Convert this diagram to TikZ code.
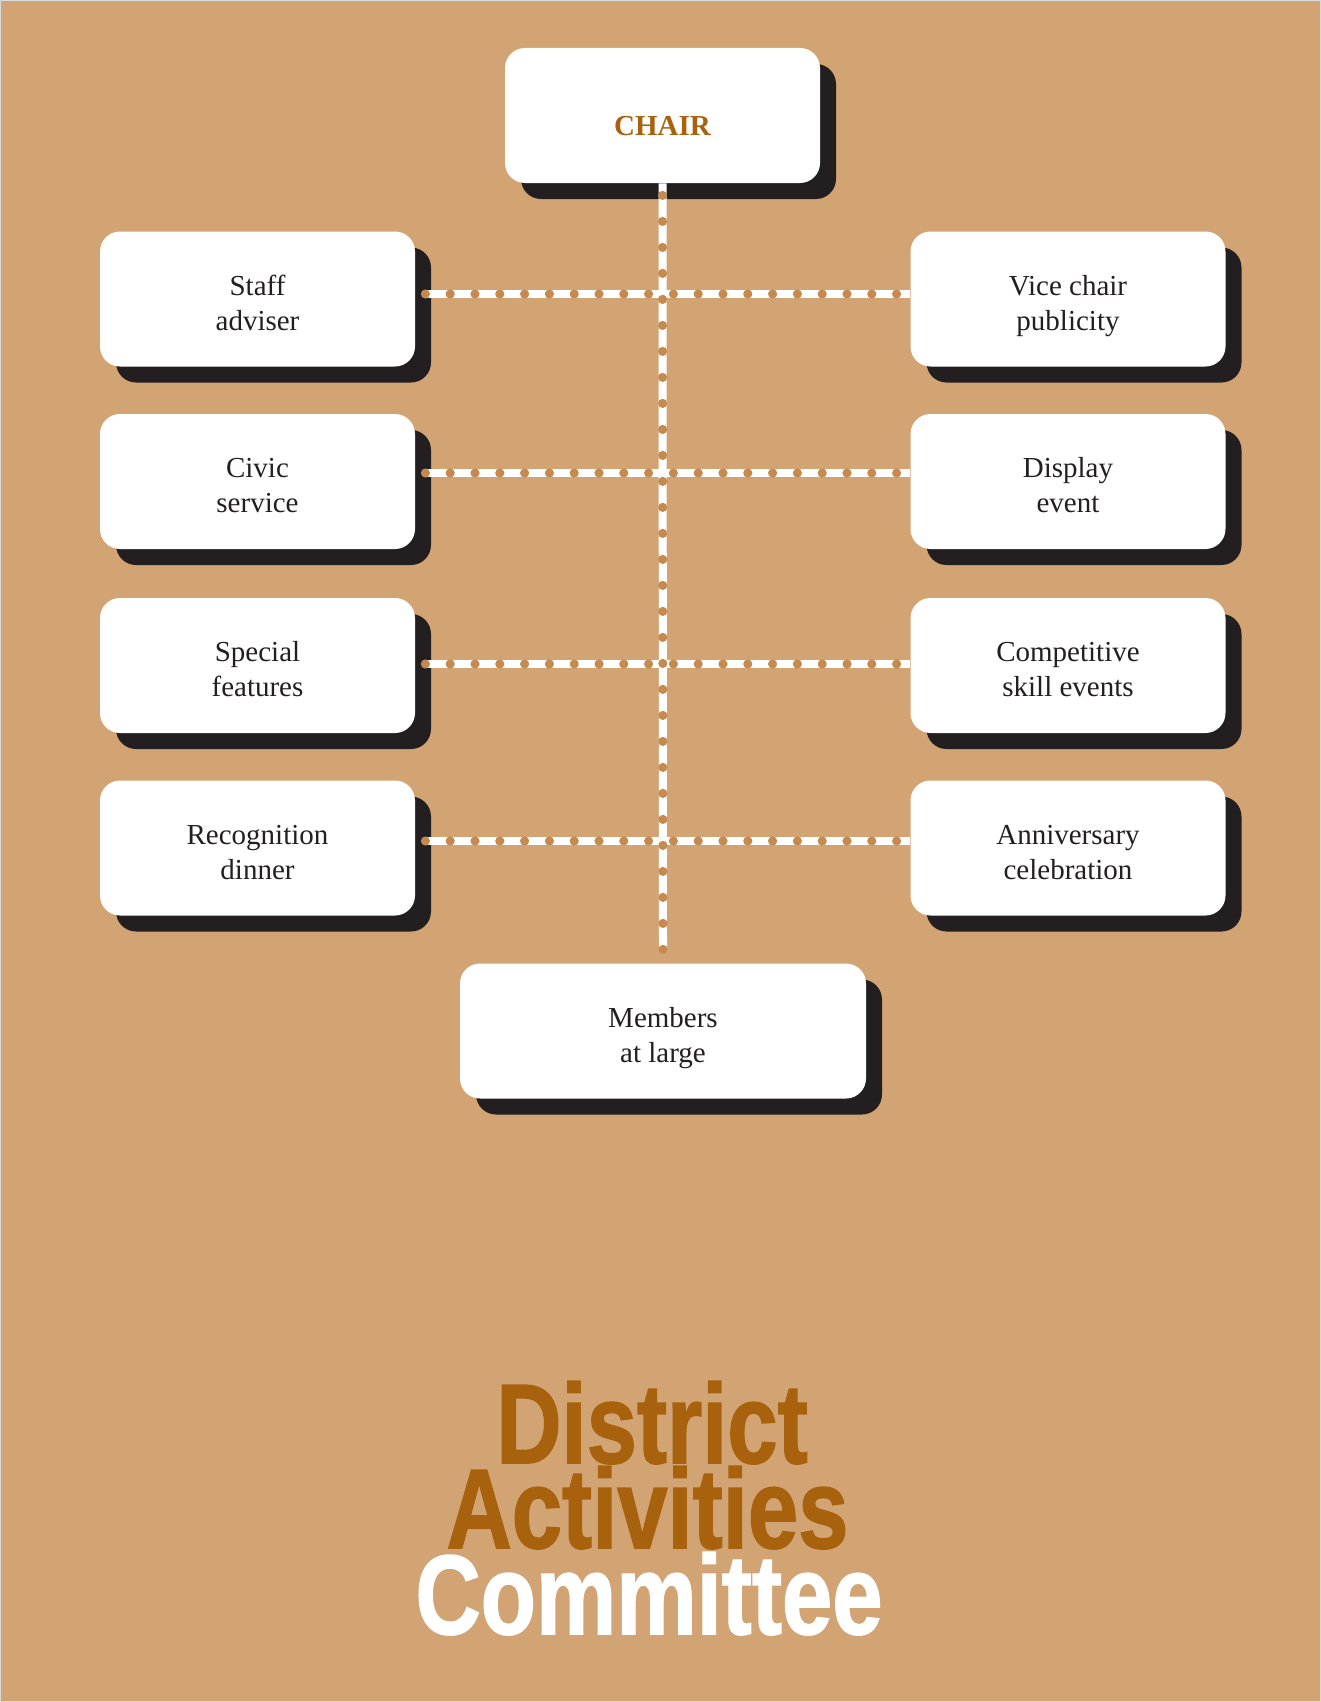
\documentclass[tikz,border=0pt]{standalone}
\usepackage{fontspec}
\usepackage{graphicx}
\setmainfont{Liberation Serif}
\newfontfamily\titlefont{Liberation Sans}[BoldFeatures={FakeBold=1.5}]
\usetikzlibrary{shadows}
\definecolor{bgc}{RGB}{210,164,116}
\definecolor{dotc}{RGB}{196,138,80}
\definecolor{brownc}{RGB}{168,98,14}
\definecolor{shadowc}{RGB}{35,31,32}
\definecolor{txtc}{RGB}{35,31,32}
\newcommand\fstrut{\rule{0pt}{17.8pt}}
\newcommand\lstrut{\rule[-4pt]{0pt}{4pt}}
\begin{document}
\begin{tikzpicture}[x=0.5pt,y=-0.5pt,
  box/.style={fill=white, rounded corners=10pt, minimum width=157.5pt, minimum height=67.5pt,
    inner sep=0pt, align=center, text=txtc, font=\fontsize{14.5}{17.5}\selectfont,
    general shadow={fill=shadowc, shadow xshift=8pt, shadow yshift=-8pt}},
  hconn/.style={draw=white, line width=4pt,
    postaction={draw=dotc, line width=4.6pt, line cap=round, dash pattern=on 0pt off 12.4pt}},
  vconn/.style={draw=white, line width=4pt,
    postaction={draw=dotc, line width=4.6pt, line cap=round, dash pattern=on 0pt off 13pt, dash phase=-6pt}},
  ttl/.style={anchor=base, inner sep=0pt, font=\titlefont\bfseries\fontsize{56.5}{56.5}\selectfont}
]
\fill[bgc] (0,0) rectangle (1321,1702);
\draw[black!15, line width=0.5pt] (0.5,0.5) rectangle (1320.5,1701.5);

\node[box, text=brownc, font=\bfseries\fontsize{14.5}{17.5}\selectfont,
  text height=19.6pt, text depth=0pt] (chair) at (662.5,115.5) {CHAIR};

\node[box] (sa) at (257.5,299) {\fstrut Staff\\adviser\lstrut};
\node[box] (cs) at (257.5,481.5) {\fstrut Civic\\service\lstrut};
\node[box] (sf) at (257.5,665.5) {\fstrut Special\\features\lstrut};
\node[box] (rd) at (257.5,848) {\fstrut Recognition\\dinner\lstrut};

\node[box] (vc) at (1068,299) {\fstrut Vice chair\\publicity\lstrut};
\node[box] (de) at (1068,481.5) {\fstrut Display\\event\lstrut};
\node[box] (cse) at (1068,665.5) {\fstrut Competitive\\skill events\lstrut};
\node[box] (ac) at (1068,848) {\fstrut Anniversary\\celebration\lstrut};

\node[box, minimum width=203pt] (mem) at (663,1031) {\fstrut Members\\at large\lstrut};

\coordinate (vend) at ([yshift=6pt]mem.north);

\draw[hconn] ([xshift=5pt,yshift=2.5pt]sa.east) -- ([yshift=2.5pt]vc.west);
\draw[hconn] ([xshift=5pt,yshift=4.25pt]cs.east) -- ([yshift=4.25pt]de.west);
\draw[hconn] ([xshift=5pt,yshift=0.75pt]sf.east) -- ([yshift=0.75pt]cse.west);
\draw[hconn] ([xshift=5pt,yshift=3.5pt]rd.east) -- ([yshift=3.5pt]ac.west);
\draw[vconn] (chair.south) -- (vend);

\node[ttl, text=brownc] (t1) at (652,1463) {\scalebox{0.8}[1]{District}};
\node[ttl, text=brownc] (t2) at (647.5,1548) {\scalebox{0.8}[1]{Activities}};
\node[ttl, text=white] (t3) at (649,1634) {\scalebox{0.8}[1]{Committee}};
\end{tikzpicture}
\end{document}
